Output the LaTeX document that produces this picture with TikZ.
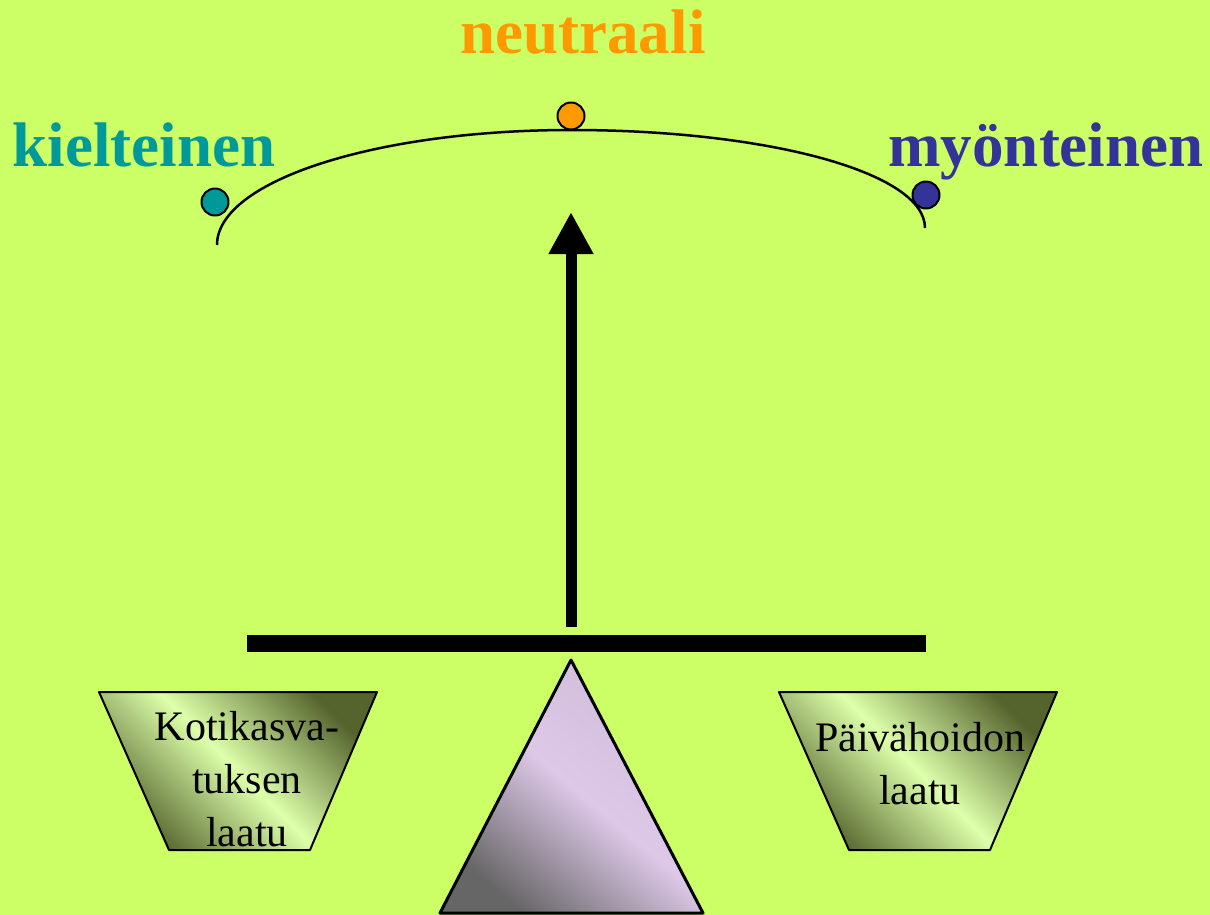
\documentclass[tikz,border=0pt]{standalone}
\usepackage{fontspec}
\setmainfont{Liberation Serif}
\usetikzlibrary{positioning,arrows.meta,calc}
\definecolor{bgcol}{RGB}{204,255,102}
\definecolor{kielcol}{RGB}{0,153,153}
\definecolor{neutcol}{RGB}{255,153,0}
\definecolor{myoncol}{RGB}{51,51,153}
\definecolor{traplight}{RGB}{221,255,170}
\definecolor{trapdark}{RGB}{85,100,45}
\definecolor{lavender}{RGB}{221,200,232}
\tikzset{
  labeltext/.style={font=\fontsize{63}{70}\selectfont\bfseries,anchor=base,inner sep=0pt},
  boxtext/.style={font=\fontsize{42}{53}\selectfont,align=center,inner sep=0pt},
  pointer/.style={circle,draw=black,line width=2pt,minimum size=27pt,inner sep=0pt},
  trapbox/.style={draw=black,line width=2pt,top color=trapdark,bottom color=trapdark,
    middle color=traplight,shading angle=-45}
}
\begin{document}
\begin{tikzpicture}[x=1pt,y=-1pt,line join=round]
  \fill[bgcol] (0,0) rectangle (1210,915);
  \useasboundingbox (0,0) rectangle (1210,915);
  % scale of values
  \coordinate (arcL) at (217,245);
  \coordinate (arcT) at (571,130);
  \coordinate (arcR) at (925,228);
  \draw[line width=2.5pt] (arcL) .. controls (217,181) and (376,130) .. (arcT)
    .. controls (766,130) and (925,172) .. (arcR);
  \node[pointer,fill=kielcol] (kdot) at (215,202) {};
  \node[pointer,fill=neutcol] (ndot) at (571,116) {};
  \node[pointer,fill=myoncol] (mdot) at (926,195) {};
  \node[labeltext,text=neutcol] (neut) at (583,54) {neutraali};
  \node[labeltext,text=kielcol] (kiel) at (144,167) {kielteinen};
  \node[labeltext,text=myoncol] (myon) at (1046,167) {myönteinen};
  % balance
  \coordinate (pivot) at (571,627);
  \coordinate (tip) at (571,212);
  \draw[line width=11pt,-{Triangle[width=42pt,length=42pt]}] (pivot) -- (tip);
  \coordinate (beamL) at (247,643.5);
  \coordinate (beamR) at (926,643.5);
  \draw[line width=17pt] (beamL) -- (beamR);
  \shade[draw=black,line width=3pt,top color=lavender!85!gray,bottom color=black!60,
    middle color=lavender,shading angle=-40]
    (571,660) -- (703,913) -- (440,913) -- cycle;
  \shade[trapbox] (99,692) -- (377,692) -- (310,850) -- (169,850) -- cycle;
  \shade[trapbox] (779,692) -- (1057,692) -- (990,850) -- (849,850) -- cycle;
  \node[boxtext] (koti) at (247,779) {Kotikasva-\\tuksen\\laatu};
  \node[boxtext] (paiv) at (920,764) {Päivähoidon\\laatu};
\end{tikzpicture}
\end{document}
